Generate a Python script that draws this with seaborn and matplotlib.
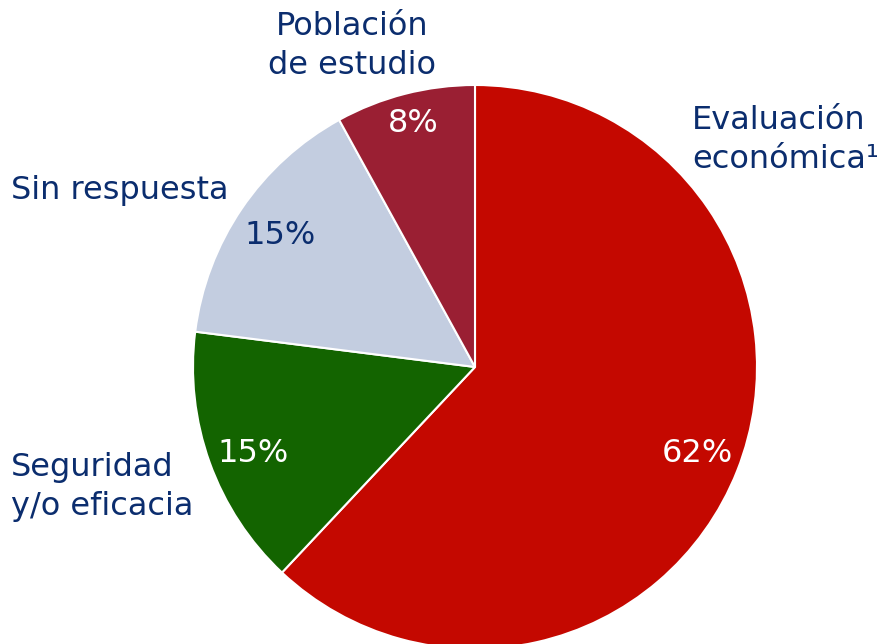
import seaborn as sns
import matplotlib.pyplot as plt

# Slice data, clockwise from 12 o'clock
categories = ['Evaluación\neconómica¹', 'Seguridad\ny/o eficacia',
              'Sin respuesta', 'Población\nde estudio']
shares = [62, 15, 15, 8]
pct_labels = ['62%', '15%', '15%', '8%']

sns.set_theme(style="white")
plt.rcParams['font.family'] = ['DejaVu Sans']

navy = '#0B2D6E'
colors = sns.color_palette(['#C40800', '#136400', '#C3CDE0', '#9A1F33'])
pct_colors = ['white', 'white', navy, 'white']

fig = plt.figure(figsize=(8.78, 6.44), dpi=100)
# pie centre at (475, 367) px, radius 282 px
ax = fig.add_axes([(475 - 282) / 878, (644 - 367 - 282) / 644,
                   564 / 878, 564 / 644])

wedges, _ = ax.pie(shares, colors=colors, startangle=90, counterclock=False,
                   radius=1, wedgeprops=dict(edgecolor='white', linewidth=1.5))
ax.set_xlim(-1, 1)
ax.set_ylim(-1, 1)
ax.set_aspect('equal')


def px(x, y):
    # pixel position -> data coords
    return (x - 475) / 282, (367 - y) / 282


fs = 23
ls = 1.3
# percentage labels inside slices
pct_pos = [(697, 453), (253, 453), (280, 235), (413, 123)]
for txt, (x, y), c in zip(pct_labels, pct_pos, pct_colors):
    ax.text(*px(x, y), txt, color=c, fontsize=fs, ha='center', va='center')

# category labels outside
ax.text(*px(692, 140), categories[0], color=navy, fontsize=fs,
        ha='left', va='center', linespacing=ls, clip_on=False)
ax.text(*px(11, 487), categories[1], color=navy, fontsize=fs,
        ha='left', va='center', linespacing=ls, clip_on=False)
ax.text(*px(11, 190), categories[2], color=navy, fontsize=fs,
        ha='left', va='center', clip_on=False)
ax.text(*px(352, 46), categories[3], color=navy, fontsize=fs,
        ha='center', va='center', linespacing=ls, clip_on=False)

fig.savefig('out.png', dpi=100)
